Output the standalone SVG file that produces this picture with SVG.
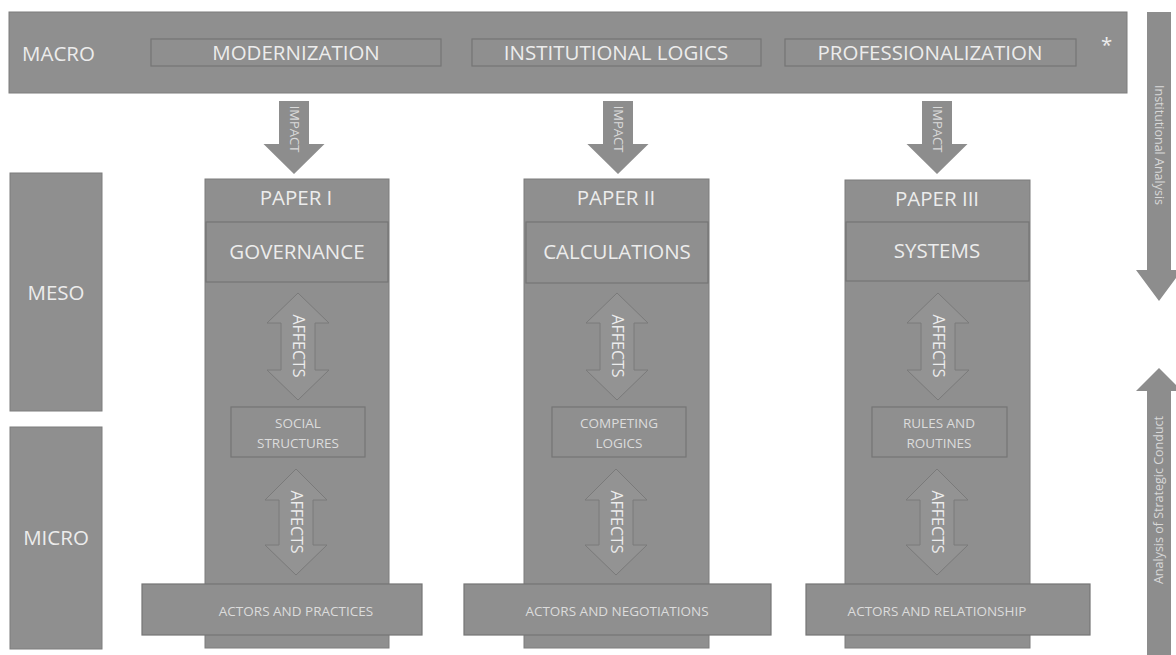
<svg xmlns="http://www.w3.org/2000/svg" width="1176" height="655" viewBox="0 0 1176 655">
<style>
.box{fill:#8f8f8f;stroke:#7c7c7c;stroke-width:1}
.inner{fill:#8f8f8f;stroke:#757575;stroke-width:1.2}
.arr{fill:#8d8d8d;stroke:none}
.darr{fill:#939393;stroke:#7a7a7a;stroke-width:1}
.big{font-family:"Open Sans","Liberation Sans",sans-serif;font-size:20.5px;fill:#ececec}
.mid{font-family:"Open Sans","Liberation Sans",sans-serif;font-size:13.5px;fill:#dcdcdc}
.rot{font-family:"Open Sans","Liberation Sans",sans-serif;font-size:16px;fill:#ececec}
.imp{font-family:"Open Sans","Liberation Sans",sans-serif;font-size:13px;fill:#dadada}
.side{font-family:"Open Sans","Liberation Sans",sans-serif;font-size:12.5px;fill:#d8d8d8}
</style>
<rect width="1176" height="655" fill="#ffffff"/>

<g id="macro">
  <rect class="box" x="9" y="12" width="1118" height="81"/>
  <text class="big" x="22" y="61">MACRO</text>
  <text class="big" x="1101" y="52" font-size="18">*</text>
</g>
<g id="modernization">
  <rect class="inner" x="151" y="39" width="290" height="27"/>
  <text class="big" x="296" y="60" text-anchor="middle">MODERNIZATION</text>
</g>
<g id="institutional-logics">
  <rect class="inner" x="472" y="39" width="289" height="27"/>
  <text class="big" x="616" y="60" text-anchor="middle">INSTITUTIONAL LOGICS</text>
</g>
<g id="professionalization">
  <rect class="inner" x="785" y="39" width="291" height="27"/>
  <text class="big" x="930" y="60" text-anchor="middle">PROFESSIONALIZATION</text>
</g>

<g id="meso">
  <rect class="box" x="10" y="173" width="92" height="238"/>
  <text class="big" x="56" y="300" text-anchor="middle">MESO</text>
</g>
<g id="micro">
  <rect class="box" x="10" y="427" width="92" height="222"/>
  <text class="big" x="56" y="545" text-anchor="middle">MICRO</text>
</g>

<g id="paper1">
  <rect class="box" x="205" y="179" width="184" height="469"/>
  <text class="big" x="296" y="205" text-anchor="middle">PAPER I</text>
</g>
<g id="governance">
  <rect class="inner" x="206" y="222" width="182" height="60"/>
  <text class="big" x="297" y="259" text-anchor="middle">GOVERNANCE</text>
</g>
<g id="social-structures">
  <rect class="inner" x="231" y="407" width="134" height="50"/>
  <text class="mid" x="298" y="428" text-anchor="middle">SOCIAL</text>
  <text class="mid" x="298" y="448" text-anchor="middle">STRUCTURES</text>
</g>
<g id="actors-practices">
  <rect class="inner" x="142" y="584" width="280" height="51"/>
  <text class="mid" x="296" y="616" text-anchor="middle">ACTORS AND PRACTICES</text>
</g>

<g id="paper2">
  <rect class="box" x="524" y="179" width="185" height="469"/>
  <text class="big" x="616" y="205" text-anchor="middle">PAPER II</text>
</g>
<g id="calculations">
  <rect class="inner" x="526" y="222" width="182" height="61"/>
  <text class="big" x="617" y="259" text-anchor="middle">CALCULATIONS</text>
</g>
<g id="competing-logics">
  <rect class="inner" x="552" y="407" width="134" height="50"/>
  <text class="mid" x="619" y="428" text-anchor="middle">COMPETING</text>
  <text class="mid" x="619" y="448" text-anchor="middle">LOGICS</text>
</g>
<g id="actors-negotiations">
  <rect class="inner" x="464" y="584" width="307" height="51"/>
  <text class="mid" x="617" y="616" text-anchor="middle">ACTORS AND NEGOTIATIONS</text>
</g>

<g id="paper3">
  <rect class="box" x="845" y="180" width="185" height="468"/>
  <text class="big" x="937" y="206" text-anchor="middle">PAPER III</text>
</g>
<g id="systems">
  <rect class="inner" x="846" y="222" width="183" height="59"/>
  <text class="big" x="937" y="258" text-anchor="middle">SYSTEMS</text>
</g>
<g id="rules-routines">
  <rect class="inner" x="872" y="407" width="135" height="50"/>
  <text class="mid" x="939" y="428" text-anchor="middle">RULES AND</text>
  <text class="mid" x="939" y="448" text-anchor="middle">ROUTINES</text>
</g>
<g id="actors-relationship">
  <rect class="inner" x="806" y="584" width="284" height="51"/>
  <text class="mid" x="937" y="616" text-anchor="middle">ACTORS AND RELATIONSHIP</text>
</g>

<g id="connectors">
  <!-- IMPACT arrows -->
  <path class="arr" d="M279,101 H309 V144 H324.5 L294,174 L263.5,144 H279 Z"/>
  <text class="imp" transform="translate(290,129) rotate(90)" text-anchor="middle">IMPACT</text>
  <path class="arr" d="M603,101 H633 V144 H648.5 L618,174 L587.5,144 H603 Z"/>
  <text class="imp" transform="translate(614,129) rotate(90)" text-anchor="middle">IMPACT</text>
  <path class="arr" d="M922,101 H952 V144 H967.5 L937,174 L906.5,144 H922 Z"/>
  <text class="imp" transform="translate(933,129) rotate(90)" text-anchor="middle">IMPACT</text>

  <!-- AFFECTS double arrows, column 1 -->
  <path class="darr" d="M298,293 L329,323 H315 V370 H329 L298,400 L267,370 H281 V323 H267 Z"/>
  <text class="rot" transform="translate(292.5,346) rotate(90)" text-anchor="middle">AFFECTS</text>
  <path class="darr" d="M296,469 L327,500 H313 V545 H327 L296,575 L265,545 H279 V500 H265 Z"/>
  <text class="rot" transform="translate(290.5,522) rotate(90)" text-anchor="middle">AFFECTS</text>

  <!-- column 2 -->
  <path class="darr" d="M617,293 L648,323 H634 V370 H648 L617,400 L586,370 H600 V323 H586 Z"/>
  <text class="rot" transform="translate(611.5,346) rotate(90)" text-anchor="middle">AFFECTS</text>
  <path class="darr" d="M616,469 L647,500 H633 V545 H647 L616,575 L585,545 H599 V500 H585 Z"/>
  <text class="rot" transform="translate(610.5,522) rotate(90)" text-anchor="middle">AFFECTS</text>

  <!-- column 3 -->
  <path class="darr" d="M938,293 L969,323 H955 V370 H969 L938,400 L907,370 H921 V323 H907 Z"/>
  <text class="rot" transform="translate(932.5,346) rotate(90)" text-anchor="middle">AFFECTS</text>
  <path class="darr" d="M937,469 L968,500 H954 V545 H968 L937,575 L906,545 H920 V500 H906 Z"/>
  <text class="rot" transform="translate(931.5,522) rotate(90)" text-anchor="middle">AFFECTS</text>

  <!-- right side arrows -->
  <path class="arr" d="M1147,12 H1171 V270 H1182 L1159,301 L1136,270 H1147 Z"/>
  <text class="side" transform="translate(1155,145) rotate(90)" text-anchor="middle">Institutional Analysis</text>
  <path class="arr" d="M1159,368 L1182,391 H1171 V660 H1147 V391 H1136 Z"/>
  <text class="side" transform="translate(1163,500) rotate(-90)" text-anchor="middle">Analysis of Strategic Conduct</text>
</g>
</svg>
